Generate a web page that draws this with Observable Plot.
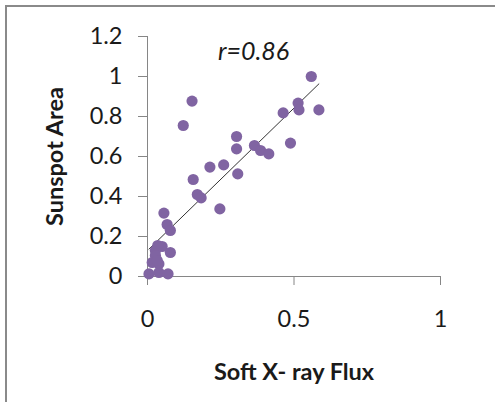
<!DOCTYPE html>
<html>
<head>
<meta charset="utf-8">
<script src="https://cdn.jsdelivr.net/npm/d3@7"></script>
<script src="https://cdn.jsdelivr.net/npm/@observablehq/plot@0.6"></script>
<style>
  html, body { margin: 0; padding: 0; background: #fff; }
  #wrap { position: relative; width: 495px; height: 402px; overflow: hidden; }
  #wrap svg { position: absolute; left: 0; top: 0; }
  #border { position: absolute; left: 5px; top: 5px; width: 495px; height: 402px;
            border-top: 2px solid #8a8a8a; border-left: 2px solid #8a8a8a; box-sizing: border-box; }
</style>
</head>
<body>
<div id="wrap"><div id="border"></div></div>
<script>
// Soft X-ray flux (x) and sunspot area (y)
const xFlux = [0.559, 0.152, 0.122, 0.463, 0.514, 0.517, 0.585, 0.304, 0.304, 0.488,
               0.365, 0.386, 0.414, 0.213, 0.260, 0.308, 0.156, 0.170, 0.183, 0.247,
               0.056, 0.067, 0.078, 0.050, 0.027, 0.035, 0.078, 0.027, 0.016, 0.039,
               0.033, 0.005, 0.039, 0.070];
const yArea = [1.000, 0.877, 0.755, 0.818, 0.867, 0.833, 0.833, 0.700, 0.638, 0.667,
               0.655, 0.630, 0.613, 0.547, 0.558, 0.513, 0.485, 0.410, 0.393, 0.338,
               0.317, 0.260, 0.230, 0.150, 0.130, 0.155, 0.120, 0.105, 0.070, 0.063,
               0.080, 0.013, 0.020, 0.013];
const xTicks = [0, 0.5, 1];
const yTicks = [0, 0.2, 0.4, 0.6, 0.8, 1, 1.2];
const xTitle = "Soft X- ray Flux";
const yTitle = "Sunspot Area";
const rLabel = "r=0.86";

const rows = xFlux.map((x, i) => ({x, y: yArea[i]}));
const fmt = d => String(Math.round(d * 10) / 10);
const FONT = "Lato, 'Open Sans', sans-serif";
const AXIS = "#868686";

const chart = Plot.plot({
  width: 495,
  height: 402,
  marginLeft: 147,
  marginRight: 55,
  marginTop: 36,
  marginBottom: 126,
  style: {fontFamily: FONT, background: "transparent", overflow: "visible"},
  x: {domain: [0, 1]},
  y: {domain: [0, 1.2]},
  marks: [
    Plot.ruleX([0], {stroke: AXIS, strokeWidth: 1}),
    Plot.ruleY([0], {stroke: AXIS, strokeWidth: 1}),
    Plot.axisX({ticks: xTicks, tickFormat: fmt, tickSize: 9, tickPadding: 25,
                stroke: AXIS, color: "#1a1a1a", fontSize: 23.5, label: null}),
    Plot.axisY({ticks: yTicks, tickFormat: fmt, tickSize: 9, tickPadding: 16,
                stroke: AXIS, color: "#1a1a1a", fontSize: 23.5, label: null}),
    Plot.linearRegressionY(rows, {x: "x", y: "y", ci: 0, stroke: "#333", strokeWidth: 1}),
    Plot.dot(rows, {x: "x", y: "y", r: 5.6, fill: "#8064A2", stroke: "none"}),
    Plot.text([rLabel], {x: 0.362, y: 1.125, text: d => d, fontSize: 25, fontStyle: "italic",
                         fill: "#1a1a1a", fontFamily: FONT}),
    Plot.text([yTitle], {frameAnchor: "left", dx: -92, rotate: -90, text: d => d,
                         textAnchor: "middle", lineAnchor: "middle",
                         fontSize: 23.5, fontWeight: "bold", fill: "#1a1a1a"}),
    Plot.text([xTitle], {frameAnchor: "bottom", dy: 96, text: d => d,
                         textAnchor: "middle", lineAnchor: "middle",
                         fontSize: 23.5, fontWeight: "bold", fill: "#1a1a1a"})
  ]
});
document.getElementById("wrap").appendChild(chart);
</script>
</body>
</html>
